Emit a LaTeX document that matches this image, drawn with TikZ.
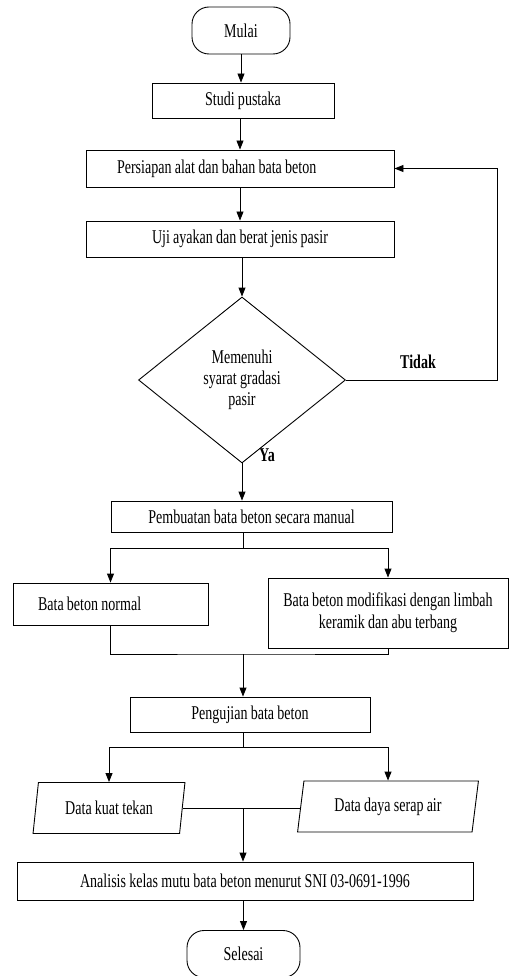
\documentclass[tikz,border=0pt]{standalone}
\usepackage{fontspec}
\setmainfont[FakeStretch=0.72, WordSpace=0.92]{Liberation Serif}
\usetikzlibrary{shapes.geometric,arrows.meta,positioning,calc}

\begin{document}
\begin{tikzpicture}[x=1pt, y=-1pt]
  % Styles for the flowchart
  \tikzset{stepbox/.style={draw, line width=0.9pt, rectangle, inner sep=2pt, font=\fontsize{19.5}{22}\selectfont}}
  \tikzset{termbox/.style={stepbox, rounded corners=17pt, minimum width=98pt, minimum height=47pt}}
  \tikzset{decbox/.style={draw, line width=0.9pt, diamond, aspect=1.25, minimum width=207pt, minimum height=166pt, inner sep=0pt, align=center, font=\fontsize{19.5}{21}\selectfont}}
  \tikzset{databox/.style={draw, line width=0.9pt, trapezium, trapezium left angle=80, trapezium right angle=100, trapezium stretches=true, minimum width=152pt, minimum height=51pt, font=\fontsize{19.5}{22}\selectfont}}
  \tikzset{flow/.style={line width=0.9pt, -{Triangle[length=9pt,width=7pt]}}}
  \tikzset{link/.style={line width=0.9pt}}
  \tikzset{tag/.style={font=\fontsize{19.5}{22}\selectfont\bfseries}}

  \useasboundingbox (0,0) rectangle (509,976);

  % Mulai
  \node[termbox] (mulai) at (241, 30.5) {Mulai};

  % Studi pustaka
  \node[stepbox, minimum width=182pt, minimum height=35pt] (studi) at (243, 100.5) {Studi pustaka};

  % Persiapan
  \node[stepbox, minimum height=37pt, inner xsep=31pt, text width=246pt, align=flush left] (persiapan) at (240, 168.5) {Persiapan alat dan bahan bata beton};

  % Uji ayakan
  \node[stepbox, minimum width=308pt, minimum height=36pt] (uji) at (240, 239) {Uji ayakan dan berat jenis pasir};

  % Memenuhi syarat
  \node[decbox] (cek) at (242, 380) {Memenuhi\\syarat gradasi\\pasir};
  \node[tag] (tidak) at (418, 362) {Tidak};
  \node[tag] (ya) at (267, 455) {Ya};

  % Pembuatan
  \node[stepbox, minimum width=281pt, minimum height=31pt] (pembuatan) at (251.5, 516.5) {Pembuatan bata beton secara manual};

  % Bata beton normal / modifikasi
  \node[stepbox, minimum height=42pt, inner xsep=25pt, text width=145pt, align=flush left] (normal) at (110.5, 604) {Bata beton normal};
  \node[stepbox, minimum width=240pt, minimum height=70pt, align=center] (modif) at (388, 613) {Bata beton modifikasi dengan limbah\\keramik dan abu terbang};

  % Pengujian
  \node[stepbox, minimum width=240pt, minimum height=35pt] (pengujian) at (250, 714.5) {Pengujian bata beton};

  % Data
  \node[databox] (kuat) at (109, 808) {Data kuat tekan};
  \node[databox, minimum width=181pt] (serap) at (388, 806.5) {Data daya serap air};

  % Analisis
  \node[stepbox, minimum width=456pt, minimum height=38pt] (analisis) at (245, 881) {Analisis kelas mutu bata beton menurut SNI 03-0691-1996};

  % Selesai
  \node[termbox, minimum width=113pt] (selesai) at (243.5, 954) {Selesai};

  % junctions
  \coordinate (s1) at (243, 548);
  \coordinate (m1) at (243, 654);
  \coordinate (s2) at (243, 747);
  \coordinate (m2) at (243, 808);

  % connectors
  \draw[flow] (mulai.south) -- (mulai.south |- studi.north);
  \draw[flow] (studi.south -| persiapan.north) -- (persiapan.north);
  \draw[flow] (persiapan.south) -- (persiapan.south |- uji.north);
  \draw[flow] (cek.north |- uji.south) -- (cek.north);
  \draw[flow] (cek.east) -- ++(151,0) |- (persiapan.east);
  \draw[flow] (cek.south) -- (cek.south |- pembuatan.north);

  \draw[link] (pembuatan.south -| s1) -- (s1);
  \draw[flow] (s1) -| (normal.north);
  \draw[flow] (s1) -| (modif.north);
  \draw[link] (normal.south) |- (m1) -| (modif.south);
  \draw[flow] (m1) -- (m1 |- pengujian.north);

  \draw[link] (pengujian.south -| s2) -- (s2);
  \draw[flow] (s2) -| (kuat.north);
  \draw[flow] (s2) -| (serap.north);
  \draw[link] (kuat.east) -- (kuat.east -| serap.west);
  \draw[flow] (m2) -- (m2 |- analisis.north);
  \draw[flow] (analisis.south -| selesai.north) -- (selesai.north);
\end{tikzpicture}
\end{document}
